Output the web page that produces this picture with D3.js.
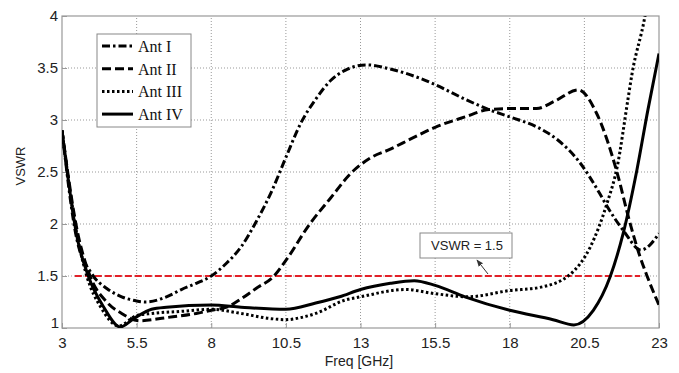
<!DOCTYPE html>
<html>
<head>
<meta charset="utf-8">
<script src="https://cdn.jsdelivr.net/npm/d3@7"></script>
<style>
  body { margin: 0; background: #fff; }
  .tick text { font-family: "Liberation Sans", Arial, sans-serif; font-size: 15px; fill: #222; }
</style>
</head>
<body>
<div id="chart"></div>
<script>
// tick values
var xTicks = [3, 5.5, 8, 10.5, 13, 15.5, 18, 20.5, 23];
var yTicks = [1, 1.5, 2, 2.5, 3, 3.5, 4];

// series: [freq, vswr]
var antI = [[3,2.9],[3.5,1.85],[4,1.52],[4.5,1.38],[5,1.3],[5.5,1.26],[5.8,1.25],[6.5,1.3],[7,1.37],[7.5,1.43],[8,1.5],[8.5,1.62],[9,1.78],[9.5,2.02],[10,2.3],[10.5,2.64],[11,2.97],[11.5,3.2],[12,3.38],[12.5,3.48],[13.2,3.53],[14,3.49],[15,3.4],[15.5,3.34],[16.5,3.2],[17.3,3.1],[18,3.03],[19,2.92],[19.6,2.81],[20.35,2.59],[21,2.3],[21.26,2.17],[21.8,1.94],[22.4,1.75],[22.7,1.8],[23,1.91]];
var antII = [[3,2.9],[3.5,1.95],[3.94,1.5],[4.5,1.25],[5,1.14],[5.6,1.07],[6.5,1.1],[7.5,1.14],[8,1.17],[8.6,1.21],[9,1.28],[9.5,1.38],[10.1,1.5],[10.5,1.65],[11.3,2.0],[12,2.25],[12.65,2.48],[13.3,2.63],[14,2.72],[14.7,2.82],[15.5,2.93],[16.5,3.03],[17.3,3.1],[18,3.11],[18.9,3.11],[19.5,3.18],[20.3,3.29],[20.9,3.07],[21.6,2.49],[22,2.04],[22.36,1.69],[22.6,1.5],[23,1.22]];
var antIII = [[3,2.9],[3.5,1.9],[3.83,1.5],[4.3,1.2],[4.9,1.02],[5.5,1.12],[6,1.14],[7,1.16],[8,1.18],[9,1.14],[10,1.09],[10.5,1.08],[11,1.1],[11.5,1.14],[12.5,1.27],[13,1.3],[14.5,1.37],[15.5,1.33],[16.6,1.3],[18,1.36],[19,1.39],[20,1.51],[20.7,1.78],[21.26,2.2],[21.6,2.55],[21.96,3.2],[22.1,3.45],[22.53,4.0],[22.7,4.3]];
var antIV = [[3,2.9],[3.5,1.88],[3.88,1.5],[4.4,1.2],[4.95,1.01],[5.45,1.1],[6,1.18],[6.5,1.2],[8,1.22],[9,1.2],[10.5,1.18],[11.5,1.24],[12.3,1.3],[13,1.37],[14,1.43],[14.8,1.455],[15.5,1.41],[16.5,1.3],[18,1.17],[19.45,1.08],[20.15,1.03],[20.8,1.17],[21.36,1.49],[21.8,1.91],[22.26,2.52],[22.63,3.1],[23,3.64]];
var refLine = [[3.43,1.5],[22.37,1.5]];

var seriesNames = ["Ant I", "Ant II", "Ant III", "Ant IV"];
var seriesData = [antI, antII, antIII, antIV];
var dashes = ["8,3,2.5,3", "9,4", "2.5,2.5", null];

var width = 679, height = 373;
var svg = d3.select("#chart").append("svg")
  .attr("width", width)
  .attr("height", height);

var x = d3.scaleLinear().domain([3, 23]).range([62, 659]);
var y = d3.scaleLinear().domain([1, 4]).range([328, 16]);

svg.append("defs").append("clipPath").attr("id", "plot")
  .append("rect").attr("x", 62).attr("y", 16).attr("width", 597).attr("height", 312);

// grid
var grid = svg.append("g");
grid.selectAll(".gx").data(xTicks.slice(1, -1)).enter().append("line")
  .attr("x1", d => x(d)).attr("x2", d => x(d))
  .attr("y1", y(1)).attr("y2", y(4))
  .style("stroke", "#999").style("stroke-width", 1).style("stroke-dasharray", "1,2");
grid.selectAll(".gy").data(yTicks.slice(1, -1)).enter().append("line")
  .attr("y1", d => y(d)).attr("y2", d => y(d))
  .attr("x1", x(3)).attr("x2", x(23))
  .style("stroke", "#999").style("stroke-width", 1).style("stroke-dasharray", "1,2");

// axes
var xAxis = svg.append("g").attr("transform", "translate(0," + y(1) + ")")
  .call(d3.axisBottom(x).tickValues(xTicks).tickSize(-5).tickPadding(9).tickFormat(d3.format("")));
var yAxis = svg.append("g").attr("transform", "translate(" + x(3) + ",0)")
  .call(d3.axisLeft(y).tickValues(yTicks).tickSize(-5).tickPadding(4).tickFormat(d3.format("")));
[xAxis, yAxis].forEach(function(a) {
  a.select(".domain").remove();
  a.selectAll(".tick line").style("stroke", "#999");
});
// MATLAB-style offset of the corner labels
yAxis.selectAll(".tick text").filter(d => d === 1).attr("dy", "-0.05em").attr("x", -3);

svg.append("rect")
  .attr("x", x(3)).attr("y", y(4))
  .attr("width", x(23) - x(3)).attr("height", y(1) - y(4))
  .style("fill", "none").style("stroke", "#999").style("stroke-width", 1.2);

// reference line
var line = d3.line().x(d => x(d[0])).y(d => y(d[1])).curve(d3.curveMonotoneX);
svg.append("path")
  .attr("d", d3.line().x(d => x(d[0])).y(d => y(d[1]))(refLine))
  .style("fill", "none").style("stroke", "#e32028").style("stroke-width", 2.2)
  .style("stroke-dasharray", "7,3");

// curves
var plot = svg.append("g").attr("clip-path", "url(#plot)");
plot.selectAll(".curve").data(seriesData).enter().append("path")
  .attr("d", d => line(d))
  .style("fill", "none").style("stroke", "#000").style("stroke-width", 3)
  .style("stroke-dasharray", (d, i) => dashes[i]);

// axis labels
svg.append("text")
  .attr("x", 359).attr("y", 366)
  .attr("text-anchor", "middle")
  .style("font-family", "Liberation Sans, Arial, sans-serif").style("font-size", "14px").style("fill", "#222")
  .text("Freq [GHz]");
svg.append("text")
  .attr("transform", "translate(25,166) rotate(-90)")
  .attr("text-anchor", "middle")
  .style("font-family", "Liberation Sans, Arial, sans-serif").style("font-size", "13px").style("fill", "#222")
  .text("VSWR");

// legend
var legend = svg.append("g");
legend.append("rect")
  .attr("x", 97).attr("y", 34).attr("width", 94).attr("height", 93)
  .style("fill", "#fff").style("stroke", "#888").style("stroke-width", 1);
var items = legend.selectAll(".item").data(seriesNames).enter().append("g")
  .attr("transform", (d, i) => "translate(0," + (46 + i * 22.7) + ")");
items.append("line")
  .attr("x1", 102).attr("x2", 133)
  .style("stroke", "#000").style("stroke-width", 3)
  .style("stroke-dasharray", (d, i) => dashes[i]);
items.append("text")
  .attr("x", 138).attr("y", 6)
  .style("font-family", "Liberation Serif, Times New Roman, serif").style("font-size", "16px").style("fill", "#111")
  .text(d => d);

// annotation
svg.append("rect")
  .attr("x", 420).attr("y", 233).attr("width", 92).attr("height", 25)
  .style("fill", "#fff").style("stroke", "#888").style("stroke-width", 1);
svg.append("text")
  .attr("x", 467).attr("y", 250).attr("text-anchor", "middle")
  .style("font-family", "Liberation Sans, Arial, sans-serif").style("font-size", "13px").style("fill", "#222")
  .text("VSWR = 1.5");
svg.append("defs").append("marker").attr("id", "arr")
  .attr("viewBox", "0 0 10 10").attr("refX", 9).attr("refY", 5)
  .attr("markerWidth", 7).attr("markerHeight", 7).attr("orient", "auto")
  .append("path").attr("d", "M0,1 L10,5 L0,9 Z").style("fill", "#333");
svg.append("line")
  .attr("x1", 488).attr("y1", 274).attr("x2", 477).attr("y2", 260)
  .style("stroke", "#333").style("stroke-width", 1)
  .attr("marker-end", "url(#arr)");
</script>
</body>
</html>
